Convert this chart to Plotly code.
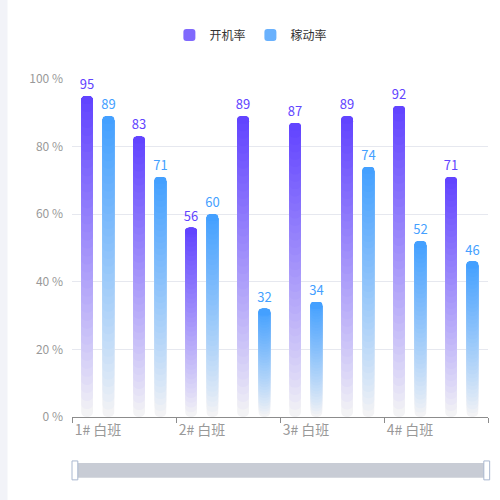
import plotly.graph_objects as go

# categories (only the day-shift labels are printed on the axis)
categories = ["1# 白班", "1# 夜班", "2# 白班", "2# 夜班",
              "3# 白班", "3# 夜班", "4# 白班", "4# 夜班"]
kaiji_rate = [95, 83, 56, 89, 87, 89, 92, 71]     # 开机率
jiadong_rate = [89, 71, 60, 32, 34, 74, 52, 46]   # 稼动率
y_ticks = [0, 20, 40, 60, 80, 100]

FONT = "Noto Sans CJK SC"
N_STEPS = 40


def hex_to_rgb(h):
    h = h.lstrip("#")
    return tuple(int(h[i:i + 2], 16) for i in (0, 2, 4))


def mix(top, bottom, t):
    a, b = hex_to_rgb(top), hex_to_rgb(bottom)
    c = [round(b[i] + (a[i] - b[i]) * t) for i in range(3)]
    return f"rgb({c[0]},{c[1]},{c[2]})"


def gradient_bars(fig, name, values, top, bottom, offset, width):
    # overlay bars that all end at the value, each starting a bit higher
    # and a bit darker -> vertical gradient with a rounded top
    for k in range(N_STEPS):
        frac = k / N_STEPS
        bases = [min(v * frac, v - 2) for v in values]
        heights = [v - b for v, b in zip(values, bases)]
        color = mix(top, bottom, (k / (N_STEPS - 1)) ** 0.9)
        fig.add_trace(go.Bar(
            x=categories, y=heights, base=bases,
            offset=offset, width=width,
            marker=dict(color=color, line=dict(width=0)),
            name=name, legendgroup=name,
            showlegend=(k == int(N_STEPS * 0.75)),
            text=values if k == 0 else None,
            texttemplate="%{text}" if k == 0 else None,
            textposition="outside" if k == 0 else "none",
            constraintext="none",
            textfont=dict(color=top, size=13, family=FONT),
            cliponaxis=False,
            hoverinfo="skip",
        ))


fig = go.Figure()
gradient_bars(fig, "开机率", kaiji_rate, "#6244FF", "#F3F3F5", -0.3225, 0.225)
gradient_bars(fig, "稼动率", jiadong_rate, "#44A0FF", "#F3F3F5", 0.0875, 0.225)

fig.update_layout(
    width=500, height=500,
    margin=dict(l=72, r=12, t=79, b=83),
    paper_bgcolor="white", plot_bgcolor="white",
    barmode="overlay",
    barcornerradius=6,
    font=dict(family=FONT, color="#999999"),
    legend=dict(orientation="h", x=0.43, y=1.13, xanchor="center", yanchor="middle",
                font=dict(size=12, color="#333333", family=FONT),
                itemwidth=30, traceorder="normal"),
    xaxis=dict(type="category", categoryorder="array", categoryarray=categories,
               range=[-0.5, 7.5], tickmode="linear", tick0=0, dtick=2,
               tickson="boundaries", ticks="outside", ticklen=5,
               tickcolor="#8c8c8c", showline=True, linecolor="#8c8c8c",
               showgrid=False, tickfont=dict(size=14, color="#999999")),
    yaxis=dict(range=[0, 100], tickvals=y_ticks,
               ticktext=[f"{v} %" for v in y_ticks],
               gridcolor="#e6e8ef", zeroline=False, showline=False,
               ticklabelstandoff=8, tickfont=dict(size=12, color="#999999")),
    shapes=[
        # page strip on the left edge
        dict(type="rect", xref="paper", yref="paper",
             x0=-0.174, x1=-0.155, y0=-0.25, y1=1.24,
             fillcolor="#f2f3f8", line=dict(width=0), layer="below"),
        # zoom slider track
        dict(type="rect", xref="paper", yref="paper",
             x0=0.0, x1=1.0, y0=-0.18, y1=-0.136,
             fillcolor="#c8ccd5", line=dict(width=0)),
        dict(type="rect", xref="paper", yref="paper",
             x0=0.0, x1=0.014, y0=-0.186, y1=-0.13,
             fillcolor="white", line=dict(color="#aab8d0", width=1)),
        dict(type="rect", xref="paper", yref="paper",
             x0=0.99, x1=1.004, y0=-0.186, y1=-0.13,
             fillcolor="white", line=dict(color="#aab8d0", width=1)),
    ],
)

fig.write_html("out.html", config={"displayModeBar": False},
               post_script="document.body.style.margin='0';")
